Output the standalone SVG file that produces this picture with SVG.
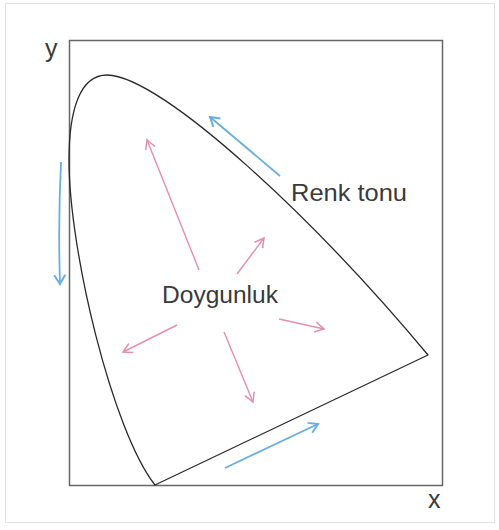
<svg xmlns="http://www.w3.org/2000/svg" width="499" height="530" viewBox="0 0 499 530">
<style>
.lbl{font-family:"Liberation Sans",Arial,sans-serif;fill:#3a3a3a}
.blue{stroke:#6aaedf;stroke-width:1.8;fill:none}
.pink{stroke:#e48fab;stroke-width:1.4;fill:none}
</style>
<defs>
<marker id="hb" markerUnits="userSpaceOnUse" markerWidth="20" markerHeight="20" refX="10" refY="10" orient="auto">
<path d="M1,4.5 L10,10 L1,15.5" fill="none" stroke="#6aaedf" stroke-width="2"/>
</marker>
<marker id="hp" markerUnits="userSpaceOnUse" markerWidth="20" markerHeight="20" refX="10" refY="10" orient="auto">
<path d="M1,5 L10,10 L1,15" fill="none" stroke="#e48fab" stroke-width="1.5"/>
</marker>
</defs>
<rect x="0" y="0" width="499" height="530" fill="#fff"/>
<rect x="5.5" y="3.5" width="489" height="519" fill="none" stroke="#e2e2e2" stroke-width="1"/>
<g id="axes">
<rect x="69.5" y="40.5" width="373" height="445" fill="none" stroke="#666" stroke-width="1.5"/>
<text class="lbl" x="45" y="57" font-size="25">y</text>
<text class="lbl" x="428" y="508" font-size="25">x</text>
</g>
<g id="locus">
<path d="M428,355 C318,223 163,76 107,75 C80,75 69,110 69,160 C69,250 112,430 155,485 L428,355 Z" fill="none" stroke="#2a2a2a" stroke-width="1.3" stroke-linejoin="round"/>
</g>
<g id="connectors">
<path class="blue" d="M61,162 Q58,225 60,284" marker-end="url(#hb)"/>
<path class="blue" d="M280,176 L210,117" marker-end="url(#hb)"/>
<path class="blue" d="M225,468 L318,424" marker-end="url(#hb)"/>
<path class="pink" d="M199,270 L147,140" marker-end="url(#hp)"/>
<path class="pink" d="M237,274 L264,238" marker-end="url(#hp)"/>
<path class="pink" d="M279,319 L324,329" marker-end="url(#hp)"/>
<path class="pink" d="M177,325 L123,352" marker-end="url(#hp)"/>
<path class="pink" d="M224,332 L253,402" marker-end="url(#hp)"/>
</g>
<g id="renk-tonu"><text class="lbl" x="291" y="201" font-size="24" textLength="116" lengthAdjust="spacingAndGlyphs">Renk tonu</text></g>
<g id="doygunluk"><text class="lbl" x="162" y="303" font-size="23" textLength="116" lengthAdjust="spacingAndGlyphs">Doygunluk</text></g>
</svg>
